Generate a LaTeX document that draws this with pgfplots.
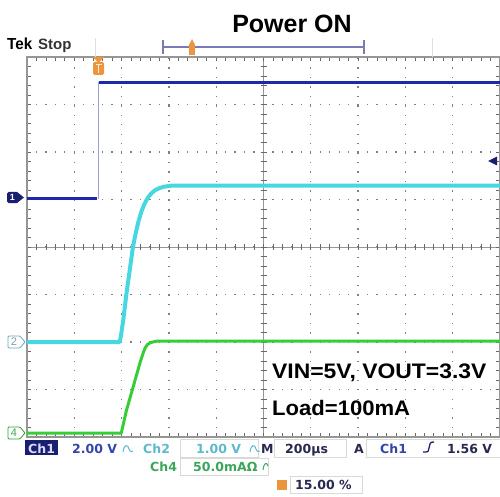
\documentclass[border=0pt]{standalone}
\usepackage{pgfplots}
\pgfplotsset{compat=1.18}
\usepackage{fontspec}
\setmainfont{Liberation Sans}
\newfontfamily\dv{DejaVu Sans}
\definecolor{gridc}{RGB}{150,150,150}
\definecolor{bch}{RGB}{30,40,170}
\definecolor{cch}{RGB}{70,215,225}
\definecolor{gch}{RGB}{55,205,55}
\definecolor{navy}{RGB}{25,30,110}
\definecolor{orng}{RGB}{235,150,60}
\definecolor{txtb}{RGB}{50,70,170}
\definecolor{txtc}{RGB}{95,185,205}
\definecolor{txtg}{RGB}{60,165,90}
\definecolor{txtd}{RGB}{40,40,80}
\begin{document}
\begin{tikzpicture}[x=1pt,y=1pt]
\path[use as bounding box] (0,0) rectangle (500,496);
% ---------- graticule ----------
\begin{scope}[shift={(27,59)}, x=47.3pt, y=47.5pt]
  \foreach \i in {1,...,9} {
    \draw[gridc!85!black, line width=1.3pt, dash pattern=on 1.3pt off 8.16pt, dash phase=0.65pt] (\i,0) -- (\i,8);
  }
  \foreach \j in {1,...,7} {
    \draw[gridc!85!black, line width=1.3pt, dash pattern=on 1.3pt off 8.16pt, dash phase=0.65pt] (0,\j) -- (10,\j);
  }
  \draw[gridc, line width=0.6pt] (5,0) -- (5,8);
  \draw[gridc, line width=0.6pt] (0,4) -- (10,4);
  \foreach \k in {1,...,49} {
    \draw[gridc!70!black, line width=0.7pt] (\k/5,4) ++(0,-3pt) -- ++(0,6pt);
    \draw[gridc!70!black, line width=0.7pt] (\k/5,0) -- ++(0,4pt);
    \draw[gridc!70!black, line width=0.7pt] (\k/5,8) -- ++(0,-4pt);
  }
  \foreach \k in {1,...,39} {
    \draw[gridc!70!black, line width=0.7pt] (5,\k/5) ++(-3pt,0) -- ++(6pt,0);
    \draw[gridc!70!black, line width=0.7pt] (0,\k/5) -- ++(4pt,0);
    \draw[gridc!70!black, line width=0.7pt] (10,\k/5) -- ++(-4pt,0);
  }
  \draw[gridc, line width=1.2pt] (0,0) rectangle (10,8);
\end{scope}
% ---------- traces ----------
\begin{axis}[at={(27pt,59pt)}, anchor=south west, scale only axis,
  width=473pt, height=380pt, xmin=0, xmax=10, ymin=-4, ymax=4,
  hide axis, clip=true]
\addplot[bch!45!white, line width=1pt] coordinates {(1.51,1.02) (1.51,3.47)};
\addplot[bch, line width=3pt] coordinates {(0,1.02) (1.49,1.02)};
\addplot[bch, line width=3pt] coordinates {(1.53,3.47) (10,3.47)};
\addplot[cch, line width=4pt, line join=round] coordinates {
  (0,-2.0) (1.96,-2.0) (1.99,-1.85) (2.04,-1.5) (2.1,-1.0) (2.17,-0.5)
  (2.24,0.0) (2.3,0.3) (2.36,0.55) (2.42,0.75) (2.48,0.9) (2.55,1.03)
  (2.62,1.12) (2.7,1.19) (2.8,1.24) (2.9,1.27) (3.05,1.29) (10,1.29)};
\addplot[gch, line width=3pt, line join=round] coordinates {
  (0,-3.92) (1.99,-3.92) (2.02,-3.8) (2.1,-3.45) (2.2,-3.1) (2.3,-2.75)
  (2.4,-2.4) (2.46,-2.22) (2.5,-2.12) (2.55,-2.05) (2.62,-2.01) (2.75,-1.98) (10,-1.98)};
\end{axis}
% ---------- markers ----------
\fill[navy] (488,335) -- (497,339.5) -- (497,330.5) -- cycle;
\fill[orng] (93,439) -- (104,439) -- (98.5,433) -- cycle;
\fill[orng, rounded corners=1.5pt] (93,421) rectangle (104,434);
\draw[white!80!orng, line width=1pt] (95.5,431) -- (101.5,431) (98.5,431) -- (98.5,423);
\fill[navy, rounded corners=1.5pt] (7,293) rectangle (18,304);
\fill[navy] (17,293) -- (24,298.5) -- (17,304) -- cycle;
\node[anchor=center, inner sep=0pt, text=white, font=\fontsize{9}{9}\selectfont\bfseries] at (12.5,298.5) {1};
\draw[txtc!80!gray, line width=0.8pt, rounded corners=1pt] (20,148) -- (8,148) -- (8,160) -- (20,160) -- (25,154) -- cycle;
\node[anchor=center, inner sep=0pt, text=gray!80!cyan, font=\fontsize{11}{11}\selectfont] at (14,154) {2};
\draw[gch!80!black, line width=0.8pt, rounded corners=1pt] (20,57) -- (8,57) -- (8,69) -- (20,69) -- (25,63) -- cycle;
\node[anchor=center, inner sep=0pt, text=txtg, font=\fontsize{11}{11}\selectfont] at (14,63) {4};
% ---------- top bar ----------
\draw[gray!25, line width=0.8pt] (95,439) -- (95,458) (432,439) -- (432,458);
\draw[gray!70!blue!80, line width=1.3pt] (163,449) -- (364,449);
\draw[gray!70!blue!80, line width=1.3pt] (163,442) -- (163,456) (364,442) -- (364,456);
\fill[orng] (189,441) rectangle (195,452);
\fill[orng] (189.5,452) -- (194.5,452) -- (192,457) -- cycle;
% ---------- titles ----------
\node[anchor=base, inner sep=0pt, font=\fontsize{25}{30}\selectfont\bfseries] at (292,463) {Power ON};
\node[anchor=base west, inner sep=0pt, font=\fontsize{16}{18}\selectfont\bfseries, xscale=0.95] at (7,446) {Tek};
\node[anchor=base west, inner sep=0pt, text=black!80, font=\fontsize{15}{18}\selectfont\bfseries] at (38,446) {Stop};
\node[anchor=base west, inner sep=0pt, xscale=1.09, font=\fontsize{21}{24}\selectfont\bfseries] at (272,118) {VIN=5V, VOUT=3.3V};
\node[anchor=base west, inner sep=0pt, xscale=1.05, font=\fontsize{21}{24}\selectfont\bfseries] at (272,81) {Load=100mA};
% ---------- readout ----------
\begin{scope}[every node/.style={anchor=base west, inner sep=0pt, font=\dv\fontsize{12.5}{14}\selectfont\bfseries}]
\draw[gray!30, line width=0.7pt] (180,39) rectangle (258,57);
\draw[gray!30, line width=0.7pt] (274,39) rectangle (346,57);
\draw[gray!30, line width=0.7pt] (366,39) rectangle (500,57);
\draw[gray!30, line width=0.7pt] (180,21) rectangle (268,38);
\draw[gray!30, line width=0.7pt] (290,3) rectangle (362,20);
\fill[navy] (25,41) rectangle (58,56);
\node[text=white!85!blue] at (28,43) {Ch1};
\node[text=txtb] at (72,43) {2.00 V};
\draw[txtc, line width=1pt] (123,44) .. controls (124,52) and (128,52) .. (129,47) .. controls (130,44) and (132,44) .. (133,45);
\node[text=txtc] at (143,43) {Ch2};
\node[text=txtc] at (196,43) {1.00 V};
\draw[txtc, line width=1pt] (250,44) .. controls (251,52) and (255,52) .. (256,47) .. controls (257,44) and (259,44) .. (260,45);
\node[text=txtd] at (261,43) {M};
\node[text=txtd] at (285,43) {200µs};
\node[text=txtd] at (354,43) {A};
\node[text=txtb] at (380,43) {Ch1};
\draw[navy, line width=1.3pt] (423,44) -- (426,44) .. controls (428,44) .. (429,48) -- (430,52) .. controls (431,54) .. (434,54);
\node[text=txtd] at (447,43) {1.56 V};
\node[text=txtg] at (150,25) {Ch4};
\node[text=txtg] at (193,25) {50.0mAΩ};
\draw[txtg, line width=1pt] (263,26) .. controls (264,34) and (267,34) .. (268,30);
\fill[orng] (277,6) rectangle (287,16);
\node[text=txtd] at (295,7) {15.00 \%};
\end{scope}
\end{tikzpicture}
\end{document}
